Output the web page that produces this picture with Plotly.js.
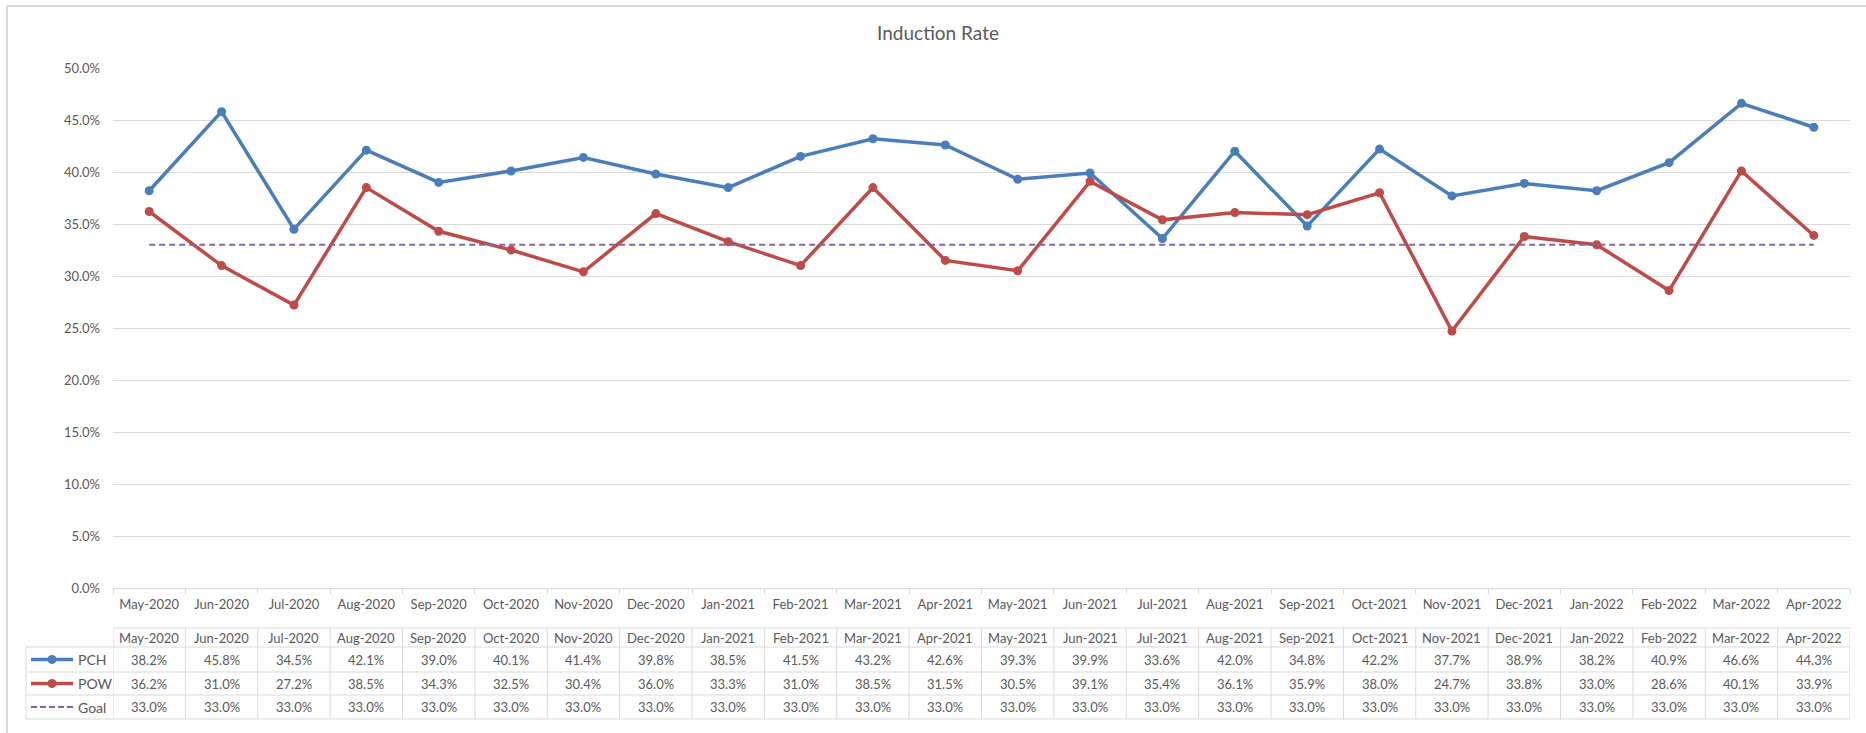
<!DOCTYPE html>
<html>
<head>
<meta charset="utf-8">
<script src="https://cdn.plot.ly/plotly-3.0.1.min.js"></script>
<style>html,body{margin:0;padding:0;background:#fff;}#chart{width:1866px;height:733px;}</style>
</head>
<body>
<div id="chart"></div>
<script>
const months = ["May-2020","Jun-2020","Jul-2020","Aug-2020","Sep-2020","Oct-2020","Nov-2020","Dec-2020","Jan-2021","Feb-2021","Mar-2021","Apr-2021","May-2021","Jun-2021","Jul-2021","Aug-2021","Sep-2021","Oct-2021","Nov-2021","Dec-2021","Jan-2022","Feb-2022","Mar-2022","Apr-2022"];
const pch = [0.382,0.458,0.345,0.421,0.390,0.401,0.414,0.398,0.385,0.415,0.432,0.426,0.393,0.399,0.336,0.420,0.348,0.422,0.377,0.389,0.382,0.409,0.466,0.443];
const pow = [0.362,0.310,0.272,0.385,0.343,0.325,0.304,0.360,0.333,0.310,0.385,0.315,0.305,0.391,0.354,0.361,0.359,0.380,0.247,0.338,0.330,0.286,0.401,0.339];
const goal = [0.33,0.33,0.33,0.33,0.33,0.33,0.33,0.33,0.33,0.33,0.33,0.33,0.33,0.33,0.33,0.33,0.33,0.33,0.33,0.33,0.33,0.33,0.33,0.33];
const seriesNames = ["PCH","POW","Goal"];
const seriesColors = ["#4A7EBB","#BE4B48","#8064A2"];

const W = 1866, H = 733;
const px = v => v / W;
const py = v => 1 - v / H;
const FONT = "Lato, 'Open Sans', sans-serif";
const TXT = "#595959";
const GRID = "#D9D9D9";
const fmt = v => (v * 100).toFixed(1) + "%";

const traces = [
  {x: months, y: pch, name: "PCH", type: "scatter", mode: "lines+markers",
   line: {color: seriesColors[0], width: 3.5}, marker: {size: 9, color: seriesColors[0]}, hoverinfo: "skip"},
  {x: months, y: pow, name: "POW", type: "scatter", mode: "lines+markers",
   line: {color: seriesColors[1], width: 3.5}, marker: {size: 9, color: seriesColors[1]}, hoverinfo: "skip"},
  {x: months, y: goal, name: "Goal", type: "scatter", mode: "lines",
   line: {color: seriesColors[2], width: 2, dash: "6px,4px"}, hoverinfo: "skip"}
];

const shapes = [];
const annotations = [];

// outer chart border (top and left visible)
shapes.push({type: "line", xref: "paper", yref: "paper", x0: px(7), x1: 1, y0: py(6), y1: py(6), line: {color: GRID, width: 2}});
shapes.push({type: "line", xref: "paper", yref: "paper", x0: px(7), x1: px(7), y0: py(6), y1: 0, line: {color: GRID, width: 2}});

// data table
const yHeadTop = 628, yRows = [647, 672, 695, 719];
const rowCenters = [659.5, 683.5, 707];
const n = months.length;
for (let i = 0; i <= n; i++) {
  shapes.push({type: "line", xref: "x", yref: "paper", x0: i - 0.5, x1: i - 0.5, y0: py(yHeadTop), y1: py(yRows[3]), line: {color: GRID, width: 1}});
}
shapes.push({type: "line", xref: "x", yref: "paper", x0: -0.5, x1: n - 0.5, y0: py(yHeadTop), y1: py(yHeadTop), line: {color: GRID, width: 1}});
yRows.forEach(yy => {
  shapes.push({type: "line", xref: "paper", yref: "paper", x0: px(26), x1: px(113), y0: py(yy), y1: py(yy), line: {color: GRID, width: 1}});
  shapes.push({type: "line", xref: "x", yref: "paper", x0: -0.5, x1: n - 0.5, y0: py(yy), y1: py(yy), line: {color: GRID, width: 1}});
});
shapes.push({type: "line", xref: "paper", yref: "paper", x0: px(26), x1: px(26), y0: py(yRows[0]), y1: py(yRows[3]), line: {color: GRID, width: 1}});

// header months
months.forEach(m => {
  annotations.push({xref: "x", yref: "paper", x: m, y: py(638), text: m, showarrow: false, xanchor: "center", yanchor: "middle", font: {family: FONT, size: 13, color: TXT}});
});
// values
[pch, pow, goal].forEach((arr, r) => {
  arr.forEach((v, i) => {
    annotations.push({xref: "x", yref: "paper", x: months[i], y: py(rowCenters[r]), text: fmt(v), showarrow: false, xanchor: "center", yanchor: "middle", font: {family: FONT, size: 13, color: TXT}});
  });
  // legend key
  const c = seriesColors[r];
  const yc = py(rowCenters[r]);
  if (r < 2) {
    shapes.push({type: "line", xref: "paper", yref: "paper", x0: px(31), x1: px(73), y0: yc, y1: yc, line: {color: c, width: 3.5}});
    shapes.push({type: "circle", xref: "paper", yref: "paper", x0: px(47.5), x1: px(56.5), y0: yc - 4.5 / H, y1: yc + 4.5 / H, fillcolor: c, line: {color: c, width: 0}});
  } else {
    shapes.push({type: "line", xref: "paper", yref: "paper", x0: px(31), x1: px(73), y0: yc, y1: yc, line: {color: c, width: 2, dash: "6px,3px"}});
  }
  annotations.push({xref: "paper", yref: "paper", x: px(76), y: yc, text: seriesNames[r], showarrow: false, xanchor: "left", yanchor: "middle", font: {family: FONT, size: 14, color: TXT}});
});

const layout = {
  width: W, height: H, autosize: false,
  margin: {l: 0, r: 0, t: 0, b: 0, pad: 0},
  paper_bgcolor: "#fff", plot_bgcolor: "#fff",
  showlegend: false,
  title: {text: "Induction Rate", x: px(938), xanchor: "center", xref: "paper", y: py(33), yanchor: "middle", yref: "paper",
          font: {family: FONT, size: 19, color: TXT}},
  xaxis: {type: "category", domain: [px(113), px(1850)], range: [-0.5, n - 0.5],
          showgrid: false, showline: true, linecolor: GRID, linewidth: 1,
          ticks: "outside", tickson: "boundaries", ticklen: 5, tickcolor: GRID,
          ticklabelstandoff: 4,
          tickfont: {family: FONT, size: 13, color: TXT}, fixedrange: true, zeroline: false},
  yaxis: {domain: [1 - 588 / H, 1 - 68 / H], range: [0, 0.5], tickvals: [0,0.05,0.1,0.15,0.2,0.25,0.3,0.35,0.4,0.45,0.5],
          tickformat: ".1%", showgrid: true, gridcolor: GRID, gridwidth: 1, zeroline: false, showline: false,
          ticks: "", ticklabelstandoff: 12,
          tickfont: {family: FONT, size: 13, color: TXT}, fixedrange: true},
  shapes: shapes,
  annotations: annotations
};

Plotly.newPlot("chart", traces, layout, {displayModeBar: false, staticPlot: true});
</script>
</body>
</html>
